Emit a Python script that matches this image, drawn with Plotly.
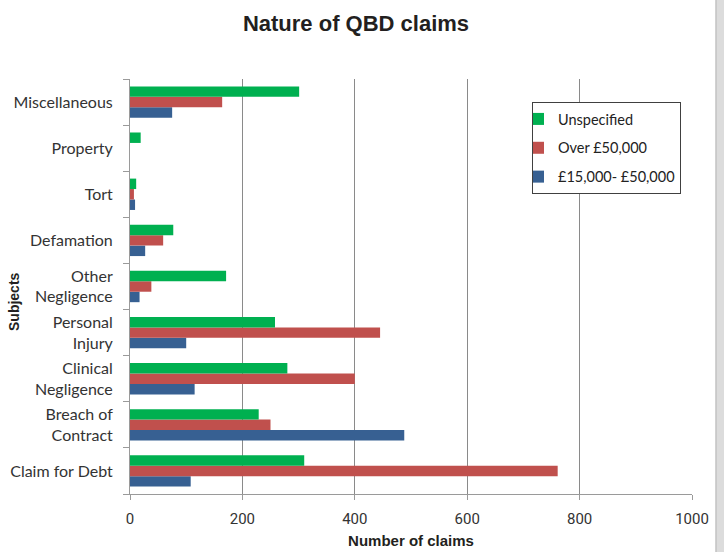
import plotly.graph_objects as go

categories = ["Claim for Debt", "Breach of<br>Contract", "Clinical<br>Negligence", "Personal<br>Injury",
              "Other<br>Negligence", "Defamation", "Tort", "Property", "Miscellaneous"]
band_15k_50k = [108, 488, 115, 100, 17, 27, 9, 0, 75]
over_50k = [761, 250, 400, 445, 38, 59, 7, 0, 164]
unspecified = [310, 229, 280, 258, 171, 77, 11, 19, 301]
x_ticks = [0, 200, 400, 600, 800, 1000]

W, H = 724, 552
L, R, T, B = 130, 32, 79, 58
pw = W - L - R
ph = H - T - B

fig = go.Figure()
fig.add_trace(go.Bar(y=categories, x=band_15k_50k, orientation="h", name="£15,000- £50,000",
                     marker=dict(color="#376092", line=dict(width=0)), legendrank=3, legendgroup="c"))
fig.add_trace(go.Bar(y=categories, x=over_50k, orientation="h", name="Over £50,000",
                     marker=dict(color="#C0504D", line=dict(width=0)), legendrank=2, legendgroup="b"))
fig.add_trace(go.Bar(y=categories, x=unspecified, orientation="h", name="Unspecified",
                     marker=dict(color="#00B050", line=dict(width=0)), legendrank=1, legendgroup="a"))

fig.update_layout(
    width=W, height=H,
    margin=dict(l=L, r=R, t=T, b=B, pad=0, autoexpand=False),
    paper_bgcolor="white", plot_bgcolor="white",
    barmode="group", bargap=0.32, bargroupgap=0,
    title=dict(text="<b>Nature of QBD claims</b>", x=356 / W, xref="container", xanchor="center",
               y=(H - 23) / H, yref="container", yanchor="middle", pad=dict(t=0, b=0, l=0, r=0),
               font=dict(family="Liberation Sans", size=22, color="#231f20")),
    font=dict(family="Lato", size=15, color="#333333"),
    legend=dict(x=(532 - L) / pw, y=(H - B - 102) / ph, xanchor="left", yanchor="top",
                bordercolor="#404040", borderwidth=1, bgcolor="white",
                traceorder="grouped", tracegroupgap=7, indentation=-15,
                font=dict(family="Lato", size=14.5, color="#222222"), itemwidth=30),
    xaxis=dict(range=[0, 1000], tickvals=x_ticks, ticktext=[str(v) for v in x_ticks],
               automargin=False,
               showgrid=True, gridcolor="#8a8a8a", gridwidth=1, zeroline=False,
               showline=True, linecolor="#9a9a9a", linewidth=1,
               ticks="outside", ticklen=5, tickcolor="#9a9a9a", ticklabelstandoff=6,
               tickfont=dict(family="Roboto", size=15, color="#333333"),
               title=dict(text="<b>Number of claims</b>", standoff=8,
                          font=dict(family="Liberation Sans", size=15, color="#231f20"))),
    yaxis=dict(type="category", categoryorder="array", categoryarray=categories,
               automargin=False,
               showgrid=False, showline=True, linecolor="#9a9a9a", linewidth=1,
               ticks="outside", ticklen=6, tickcolor="#9a9a9a", tickson="boundaries",
               ticklabelstandoff=13,
               tickfont=dict(family="Lato", size=16, color="#333333")),
    annotations=[dict(text="<b>Subjects</b>", textangle=-90,
                      x=(14 - L) / pw, y=(H - B - 302) / ph,
                      xref="paper", yref="paper", xanchor="center", yanchor="middle",
                      showarrow=False,
                      font=dict(family="Liberation Sans", size=14, color="#231f20"))],
)

# page edge on the right
edge_x0 = (716 - L) / pw
edge_x1 = (730 - L) / pw
fig.add_shape(type="rect", xref="paper", yref="paper",
              x0=edge_x0, x1=edge_x1, y0=-0.2, y1=1.25,
              fillcolor="#dcdcdc", line=dict(color="#c2c2c2", width=1.5), layer="above")

fig.write_html("out.html", config={"displayModeBar": False},
               post_script="document.body.style.margin='0px';")
